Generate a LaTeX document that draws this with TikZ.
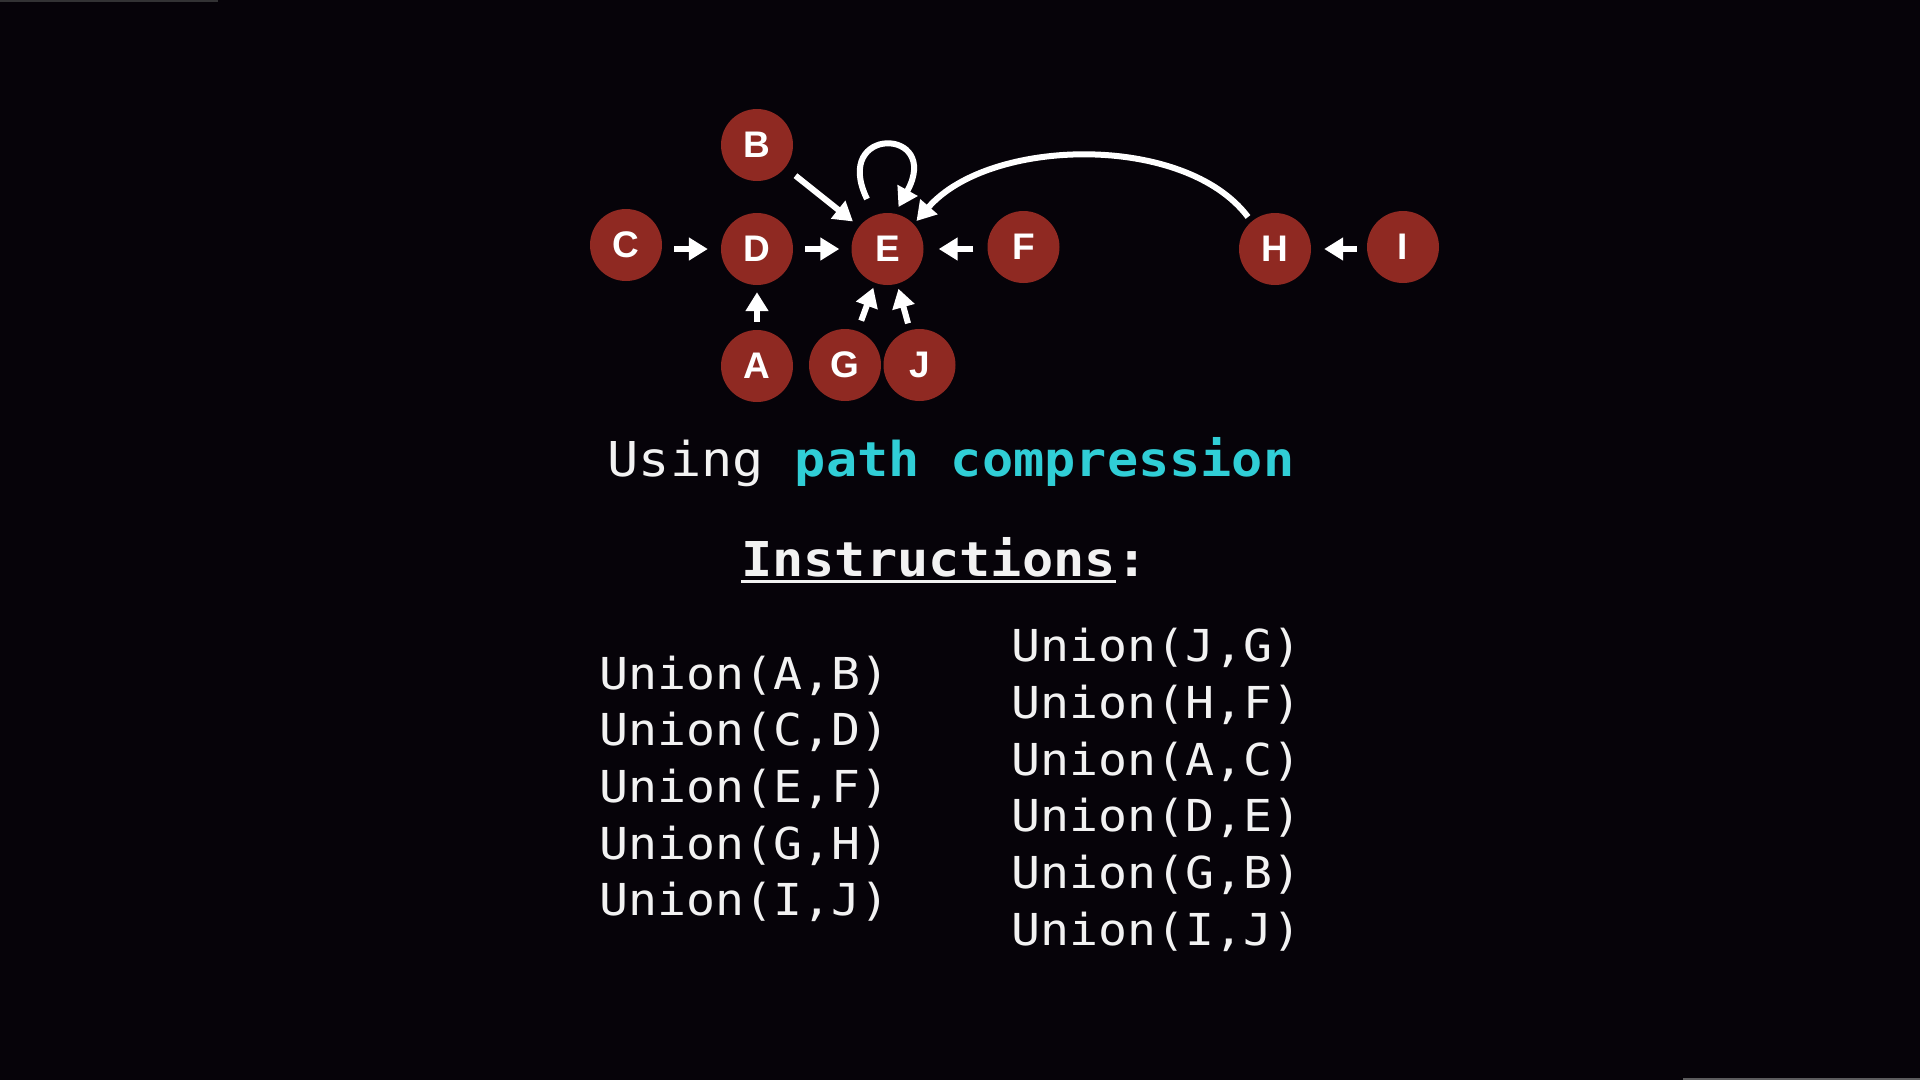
\documentclass[tikz,border=0pt]{standalone}
\usepackage{fontspec}
\setmainfont{Liberation Sans}
\newfontfamily\headfont[FakeStretch=1.08]{DejaVu Sans Mono}
\newfontfamily\codefont[FakeStretch=1.095]{DejaVu Sans Mono}
\newfontfamily\nodefont{Liberation Sans}
\usetikzlibrary{arrows.meta}

\definecolor{bg}{RGB}{6,3,9}
\definecolor{nodered}{RGB}{143,41,34}
\definecolor{accent}{RGB}{48,206,214}
\definecolor{textwhite}{RGB}{242,242,242}
\definecolor{edgegray}{RGB}{50,50,52}
\definecolor{edgegraylight}{RGB}{92,92,94}

\begin{document}
\begin{tikzpicture}[x=1pt,y=-1pt,
  uf/.style={circle, fill=nodered, minimum size=72pt, inner sep=0pt, text=white,
    font=\nodefont\bfseries\fontsize{37}{37}\selectfont},
  link/.style={draw=white, line width=6pt, -{Triangle[length=19pt,width=22pt]}},
  code/.style={inner sep=0pt, text=textwhite, anchor=base west,
    font=\codefont\fontsize{44}{50}\selectfont},
  heading/.style={inner sep=0pt, text=textwhite,
    font=\headfont\fontsize{48}{56}\selectfont},
]
% canvas
\fill[bg] (0,0) rectangle (1920,1080);
\useasboundingbox (0,0) rectangle (1920,1080);
\fill[edgegray] (0,0) rectangle (218,2);
\fill[edgegraylight] (1683,1078) rectangle (1920,1080);

% union-find forest
\node[uf] (B) at (757,145) {B};
\node[uf] (C) at (626,245) {C};
\node[uf] (D) at (757,249) {D};
\node[uf] (E) at (887.5,249) {E};
\node[uf] (F) at (1023.5,247) {F};
\node[uf] (H) at (1275,249) {H};
\node[uf] (I) at (1403,247) {I};
\node[uf] (A) at (757,366) {A};
\node[uf] (G) at (845,365) {G};
\node[uf] (J) at (919.5,365) {J};

% parent pointers
\draw[link, shorten <=12pt, shorten >=13pt] (C.east |- D) -- (D.west);
\draw[link, shorten <=12pt, shorten >=12pt] (D.east) -- (E.west);
\draw[link, shorten <=14pt, shorten >=15pt] (F.west |- E) -- (E.east);
\draw[link, shorten <=10pt, shorten >=13pt] (I.west |- H) -- (H.east);
\draw[link, shorten <=8pt, shorten >=7pt] (A.north) -- (D.south);
\draw[link, shorten <=13pt, shorten >=8pt] (B) -- (E);
\draw[link, shorten <=11pt, shorten >=5pt] (G) -- (E);
\draw[link, shorten <=7pt, shorten >=5pt] (J) -- (E);

% root points to itself
\draw[link] ([shift={(-20.5,-50)}]E.center) .. controls +(-36,-74) and +(44,-80) .. ([shift={(11,-42)}]E.center);

% H hangs directly below the root
\draw[link] ([shift={(-27,-32)}]H.center) .. controls +(-63,-84) and +(73,-84) .. ([shift={(29,-28)}]E.center);

% captions
\node[heading, anchor=base] (using) at (951,476.7)
  {Using \textcolor{accent}{\bfseries path compression}};
\node[heading, anchor=base west, font=\headfont\bfseries\fontsize{48}{56}\selectfont]
  (instr) at (741,576.7) {Instructions};
\node[heading, anchor=base west, font=\headfont\bfseries\fontsize{48}{56}\selectfont]
  (colon) at (instr.base east) {:};
\draw[textwhite, line width=3.5pt] ([yshift=-5pt]instr.base west) -- ([yshift=-5pt]instr.base east);

% instruction lists
\foreach \p/\q [count=\i] in {A/B, C/D, E/F, G/H, I/J}
  \node[code] (left\i) at (599.5,{632.3+56.7*\i}) {Union(\p,\q)};
\foreach \p/\q [count=\i] in {J/G, H/F, A/C, D/E, G/B, I/J}
  \node[code] (right\i) at (1011,{605+56.7*\i}) {Union(\p,\q)};
\end{tikzpicture}
\end{document}
